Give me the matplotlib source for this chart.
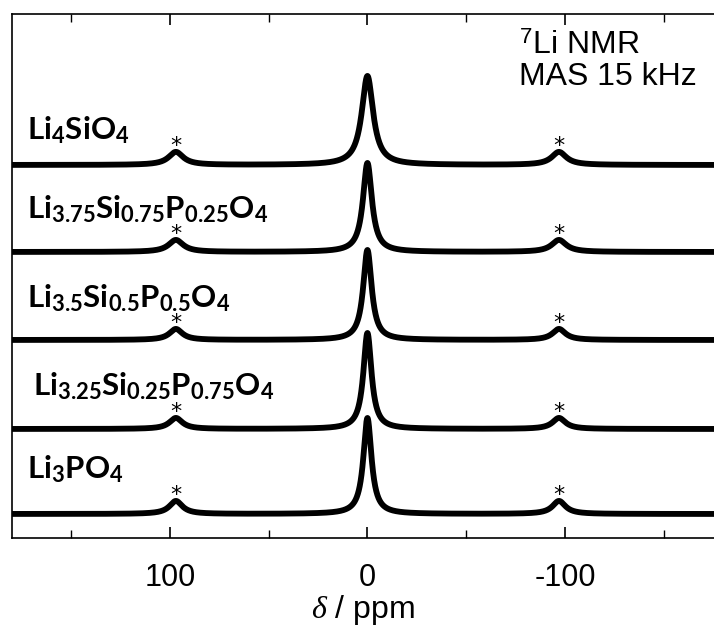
import numpy as np
import matplotlib
matplotlib.use("Agg")
import matplotlib.pyplot as plt

# sample labels (top to bottom) and the stacked spectra
labels = [r"$\mathbf{Li_{4}SiO_{4}}$",
          r"$\mathbf{Li_{3.75}Si_{0.75}P_{0.25}O_{4}}$",
          r"$\mathbf{Li_{3.5}Si_{0.5}P_{0.5}O_{4}}$",
          r"$\mathbf{Li_{3.25}Si_{0.25}P_{0.75}O_{4}}$",
          r"$\mathbf{Li_{3}PO_{4}}$"]
label_x = [172.5, 172.5, 172.5, 169.5, 172.5]   # ppm
offsets = [373, 286, 198, 109, 24]          # baseline of each trace
label_rise = [26, 34, 33, 34, 36]           # label baseline above trace baseline
center_height = [89, 89, 90, 96, 96]        # central line at 0 ppm
center_fwhm = [7.0, 5.5, 5.2, 5.0, 5.0]     # ppm
sideband_pos = [97, -97]                    # spinning sidebands, ppm
sideband_height = [13, 12, 11, 11, 13]
sideband_fwhm = [9, 9, 8, 8, 8]

plt.rcParams['mathtext.fontset'] = 'custom'
plt.rcParams['mathtext.rm'] = 'Liberation Sans'
plt.rcParams['mathtext.it'] = 'Liberation Serif:italic'
plt.rcParams['mathtext.bf'] = 'Lato:bold'
plt.rcParams['font.family'] = ['Liberation Sans', 'DejaVu Sans']


def lorentz(x, x0, h, fwhm):
    g = fwhm / 2.0
    return h * g ** 2 / ((x - x0) ** 2 + g ** 2)


ppm = np.linspace(185, -185, 4000)

fig = plt.figure(figsize=(7.14, 6.28), dpi=100)
ax = fig.add_axes([12 / 714, 90 / 628, 1 - 12 / 714, 524 / 628])

for i in range(len(labels)):
    y = offsets[i] + lorentz(ppm, 0, center_height[i], center_fwhm[i])
    for sb in sideband_pos:
        y = y + lorentz(ppm, sb, sideband_height[i], sideband_fwhm[i])
    ax.plot(ppm, y, color='black', lw=4.2, solid_capstyle='butt')
    for sb in sideband_pos:
        ax.text(sb, offsets[i] + sideband_height[i] - 4, '*', ha='center', va='bottom',
                fontsize=16, family='DejaVu Sans')
    ax.text(label_x[i], offsets[i] + label_rise[i], labels[i], ha='left', va='baseline',
            fontsize=22.5)

ax.text(-77, 492, r"$^{7}$Li NMR", ha='left', va='center', fontsize=23)
ax.text(-77, 461, "MAS 15 kHz", ha='left', va='center', fontsize=23)

ax.set_xlim(180, -175.5)
ax.set_ylim(0, 524)
ax.set_xticks([100, 0, -100])
ax.set_xticklabels(['100', '0', '-100'])
ax.set_xticks([150, 50, -50, -150], minor=True)
ax.tick_params(axis='x', which='both', direction='in', top=True, bottom=True,
               labelsize=22, pad=18)
ax.tick_params(axis='x', which='major', length=8, width=1.2)
ax.tick_params(axis='x', which='minor', length=6, width=1.0)
ax.set_yticks([])
ax.spines['right'].set_visible(False)
for s in ['left', 'top', 'bottom']:
    ax.spines[s].set_linewidth(1.2)
ax.set_xlabel(r"$\delta$ / ppm", fontsize=23, labelpad=0)

fig.savefig("out.png", dpi=100)
